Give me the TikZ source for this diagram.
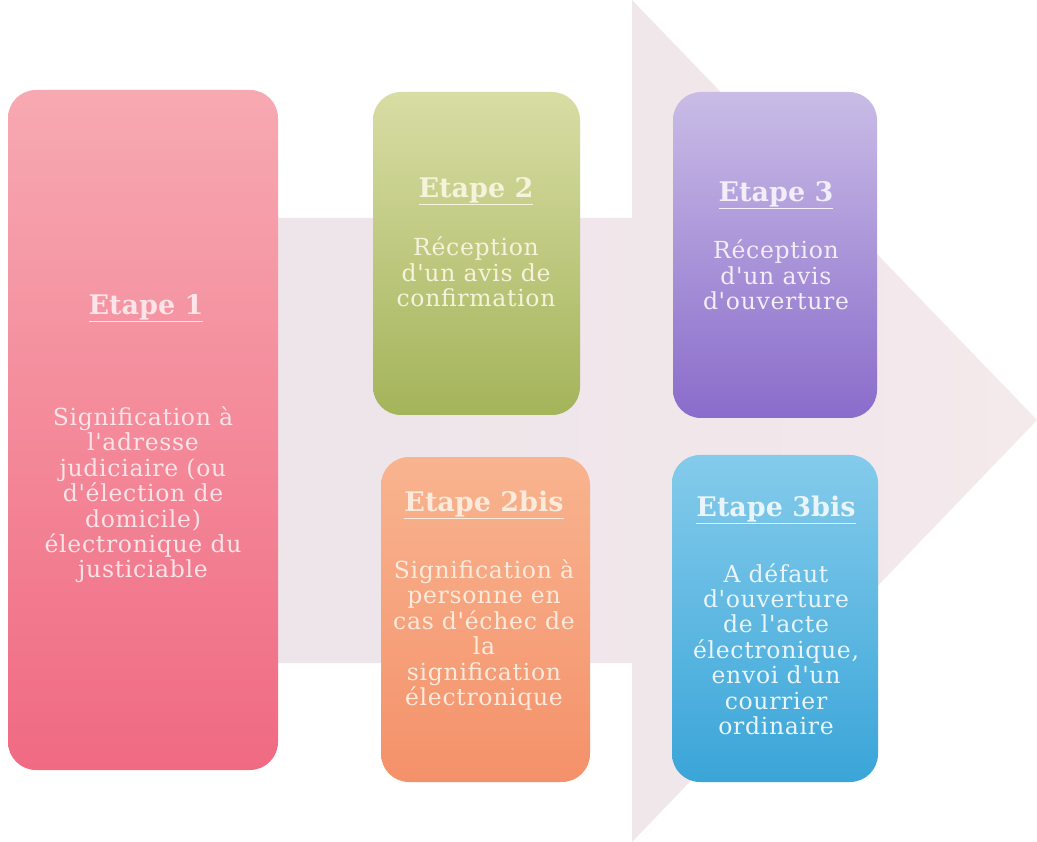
\documentclass[tikz,border=0pt]{standalone}
\usepackage{fontspec}
\setmainfont{DejaVu Serif}
\newfontfamily\bodyfont[LetterSpace=3]{DejaVu Serif}
\begin{document}
\begin{tikzpicture}[x=1pt,y=-1pt,
  stepbox/.style={draw=none,rounded corners=28pt,shading angle=0},
  ttl/.style={font=\fontsize{27}{30}\selectfont\bfseries,anchor=center},
  txt/.style={font=\bodyfont\fontsize{23.5}{25.4}\selectfont,align=center,anchor=center}]
\definecolor{arrowA}{HTML}{EAE3EA}
\definecolor{arrowB}{HTML}{F4E9EB}
\definecolor{pinkT}{HTML}{F7A9B2}
\definecolor{pinkB}{HTML}{F06A82}
\definecolor{greenT}{HTML}{D8DDA4}
\definecolor{greenB}{HTML}{A4B45A}
\definecolor{orangeT}{HTML}{F8B48F}
\definecolor{orangeB}{HTML}{F4916A}
\definecolor{purpleT}{HTML}{C9BCE6}
\definecolor{purpleB}{HTML}{8A6CCB}
\definecolor{blueT}{HTML}{84CBEB}
\definecolor{blueB}{HTML}{3AA5D8}
\definecolor{txtPink}{HTML}{FCE4E8}
\definecolor{txtGreen}{HTML}{F6F3DC}
\definecolor{txtOrange}{HTML}{FCEBDD}
\definecolor{txtPurple}{HTML}{F1EDF9}
\definecolor{txtBlue}{HTML}{EAF5FB}

\useasboundingbox (0,0) rectangle (1037,842);
\fill[white] (0,0) rectangle (1037,842);

% large background arrow
\shade[left color=arrowA,right color=arrowB]
  (15,218) -- (632,218) -- (632,0) -- (1037,420) -- (632,842) -- (632,663) -- (15,663) -- cycle;

% step boxes
\node[stepbox,top color=pinkT,bottom color=pinkB,minimum width=270pt,minimum height=680pt] (b1) at (143,430) {};
\node[stepbox,top color=greenT,bottom color=greenB,minimum width=207pt,minimum height=323pt] (b2) at (476.5,253.5) {};
\node[stepbox,top color=orangeT,bottom color=orangeB,minimum width=209pt,minimum height=325pt] (b2b) at (485.5,619.5) {};
\node[stepbox,top color=purpleT,bottom color=purpleB,minimum width=204pt,minimum height=326pt] (b3) at (775,255) {};
\node[stepbox,top color=blueT,bottom color=blueB,minimum width=206pt,minimum height=327pt] (b3b) at (775,618.5) {};

% step 1
\node[ttl,text=txtPink] (t1) at (146,308) {\underline{Etape 1}};
\node[txt,text=txtPink] (d1) at (143,495) {Signification à\\l'adresse\\judiciaire (ou\\d'élection de\\domicile)\\électronique du\\justiciable};

% step 2
\node[ttl,text=txtGreen] (t2) at (476,191) {\underline{Etape 2}};
\node[txt,text=txtGreen] (d2) at (476,272) {Réception\\d'un avis de\\confirmation};

% step 2bis
\node[ttl,text=txtOrange] (t2b) at (484,505) {\underline{Etape 2bis}};
\node[txt,text=txtOrange] (d2b) at (484,635) {Signification à\\personne en\\cas d'échec de\\la\\signification\\électronique};

% step 3
\node[ttl,text=txtPurple] (t3) at (776,195) {\underline{Etape 3}};
\node[txt,text=txtPurple] (d3) at (776,275) {Réception\\d'un avis\\d'ouverture};

% step 3bis
\node[ttl,text=txtBlue] (t3b) at (776,510) {\underline{Etape 3bis}};
\node[txt,text=txtBlue] (d3b) at (776,649) {A défaut\\d'ouverture\\de l'acte\\électronique,\\envoi d'un\\courrier\\ordinaire};
\end{tikzpicture}
\end{document}
